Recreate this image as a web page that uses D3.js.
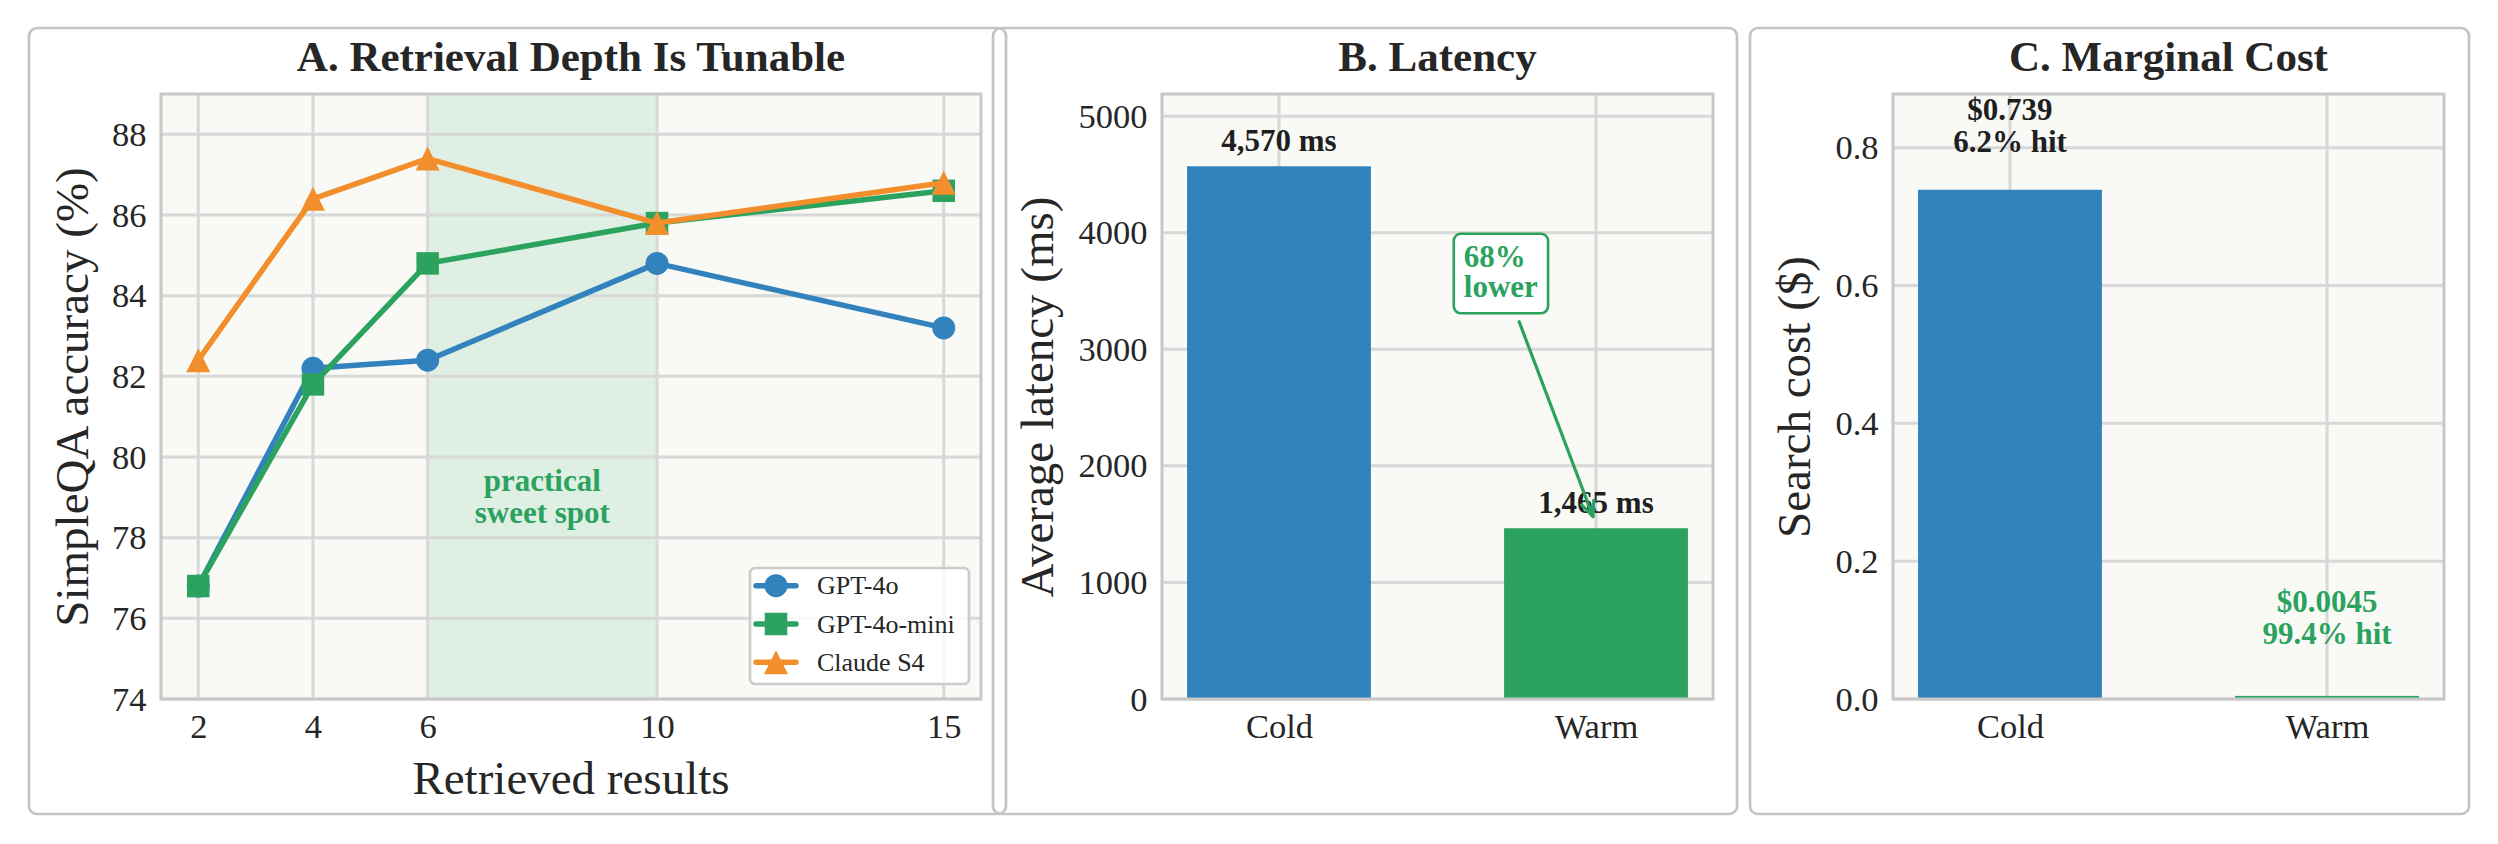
<!DOCTYPE html>
<html>
<head>
<meta charset="utf-8">
<script src="https://cdn.jsdelivr.net/npm/d3@7"></script>
<style>
  html, body { margin: 0; padding: 0; background: #ffffff; }
  svg { display: block; }
  text { font-family: "Liberation Serif", "DejaVu Serif", serif; }
</style>
</head>
<body>
<div id="chart"></div>
<script>
// Panel A data
const depths = [2, 4, 6, 10, 15];
const gpt4o = [76.8, 82.2, 82.4, 84.8, 83.2];
const gpt4oMini = [76.8, 81.8, 84.8, 85.8, 86.6];
const claudeS4 = [82.4, 86.4, 87.4, 85.8, 86.8];
const accuracyTicks = [74, 76, 78, 80, 82, 84, 86, 88];
const sweetSpot = [6, 10];

// Panels B and C data
const cacheModes = ["Cold", "Warm"];
const latencyMs = [4570, 1465];
const latencyTicks = [0, 1000, 2000, 3000, 4000, 5000];
const searchCost = [0.739, 0.0045];
const hitRates = [6.2, 99.4];
const costTicks = [0, 0.2, 0.4, 0.6, 0.8];

const BLUE = "#3182bd", GREEN = "#2ca25f", ORANGE = "#f28e2b";
const INK = "#262626", GRID = "#d8d8d8", FRAME = "#c8c8c8", PLOT_BG = "#f9faf6";

const W = 2498, H = 844;
const svg = d3.select("#chart").append("svg")
    .attr("width", W).attr("height", H);
svg.append("rect").attr("width", W).attr("height", H).attr("fill", "#ffffff");

// Plot areas (pixel boxes)
const plotTop = 94, plotBottom = 699;
const areaA = { left: 161, right: 981 };
const areaB = { left: 1162, right: 1713 };
const areaC = { left: 1893, right: 2444 };

// Panel frames (rounded, unfilled, may overlap)
const frames = [[29, 1006], [993, 1737], [1750, 2469]];
svg.append("g").selectAll("rect").data(frames).join("rect")
    .attr("x", d => d[0]).attr("y", 28)
    .attr("width", d => d[1] - d[0]).attr("height", 786)
    .attr("rx", 8)
    .attr("fill", "none").attr("stroke", "#c4c4c4").attr("stroke-width", 2.7);

// Shared helpers
function plotBackground(g, area) {
    g.append("rect")
        .attr("x", area.left).attr("y", plotTop)
        .attr("width", area.right - area.left).attr("height", plotBottom - plotTop)
        .attr("fill", PLOT_BG);
}

function gridLines(g, area, x, y, xTicks, yTicks) {
    const grid = g.append("g").attr("stroke", GRID).attr("stroke-width", 3);
    grid.selectAll(".hy").data(yTicks).join("line")
        .attr("class", "hy")
        .attr("x1", area.left).attr("x2", area.right)
        .attr("y1", d => y(d)).attr("y2", d => y(d));
    grid.selectAll(".vx").data(xTicks).join("line")
        .attr("class", "vx")
        .attr("x1", d => x(d)).attr("x2", d => x(d))
        .attr("y1", plotTop).attr("y2", plotBottom);
}

function frame(g, area) {
    g.append("rect")
        .attr("x", area.left).attr("y", plotTop)
        .attr("width", area.right - area.left).attr("height", plotBottom - plotTop)
        .attr("fill", "none").attr("stroke", FRAME).attr("stroke-width", 3);
}

function axes(g, area, x, y, xTicks, yTicks, xFmt, yFmt) {
    const ax = g.append("g")
        .attr("transform", `translate(${area.left},0)`)
        .call(d3.axisLeft(y).tickValues(yTicks).tickFormat(yFmt).tickSize(0).tickPadding(14.5));
    const bx = g.append("g")
        .attr("transform", `translate(0,${plotBottom})`)
        .call(d3.axisBottom(x).tickValues(xTicks).tickFormat(xFmt).tickSize(0).tickPadding(15));
    [ax, bx].forEach(a => {
        a.select(".domain").remove();
        a.selectAll("text")
            .attr("fill", INK)
            .style("font-size", "34.5px")
            .style("font-family", "'Liberation Serif', serif");
    });
}

function title(g, area, label) {
    g.append("text")
        .attr("x", (area.left + area.right) / 2).attr("y", 71)
        .attr("text-anchor", "middle")
        .attr("fill", INK)
        .style("font-size", "43px").style("font-weight", "bold")
        .text(label);
}

function yLabel(g, baseX, label) {
    g.append("text")
        .attr("transform", `translate(${baseX},397) rotate(-90)`)
        .attr("text-anchor", "middle")
        .attr("fill", INK)
        .style("font-size", "47px")
        .text(label);
}

// matplotlib-like markers: circle, square, triangle-up (size = full width)
const markerPath = {
    circle: s => d3.symbol(d3.symbolCircle, Math.PI * (s / 2) ** 2)(),
    square: s => `M${-s / 2},${-s / 2}h${s}v${s}h${-s}Z`,
    triangle: s => `M0,${-s / 2}L${s / 2},${s / 2}L${-s / 2},${s / 2}Z`
};

// ---------- Panel A: line chart ----------
const gA = svg.append("g");
const xA = d3.scaleLinear().domain([1.35, 15.65]).range([areaA.left, areaA.right]);
const yA = d3.scaleLinear().domain([74, 89]).range([plotBottom, plotTop]);

plotBackground(gA, areaA);
gA.append("rect")
    .attr("x", xA(sweetSpot[0])).attr("y", plotTop)
    .attr("width", xA(sweetSpot[1]) - xA(sweetSpot[0])).attr("height", plotBottom - plotTop)
    .attr("fill", GREEN).attr("fill-opacity", 0.12);
gridLines(gA, areaA, xA, yA, depths, accuracyTicks);

const spotText = gA.append("text")
    .attr("text-anchor", "middle")
    .attr("fill", GREEN)
    .style("font-size", "31px").style("font-weight", "bold");
spotText.append("tspan").attr("x", xA(8)).attr("y", yA(79) - 6).text("practical");
spotText.append("tspan").attr("x", xA(8)).attr("y", yA(79) + 26).text("sweet spot");

const series = [
    { name: "GPT-4o", values: gpt4o, color: BLUE, marker: "circle", size: 23 },
    { name: "GPT-4o-mini", values: gpt4oMini, color: GREEN, marker: "square", size: 22.5 },
    { name: "Claude S4", values: claudeS4, color: ORANGE, marker: "triangle", size: 24 }
];

const line = d3.line().x(d => xA(d[0])).y(d => yA(d[1]));
series.forEach(s => {
    const pts = depths.map((d, i) => [d, s.values[i]]);
    const sg = gA.append("g");
    sg.append("path")
        .attr("d", line(pts))
        .attr("fill", "none").attr("stroke", s.color)
        .attr("stroke-width", 5.5).attr("stroke-linejoin", "round").attr("stroke-linecap", "round");
    sg.selectAll("path.m").data(pts).join("path")
        .attr("class", "m")
        .attr("transform", d => `translate(${xA(d[0])},${yA(d[1])})`)
        .attr("d", markerPath[s.marker](s.size))
        .attr("fill", s.color);
});
frame(gA, areaA);
axes(gA, areaA, xA, yA, depths, accuracyTicks, d3.format("d"), d3.format("d"));
title(gA, areaA, "A. Retrieval Depth Is Tunable");
yLabel(gA, 88, "SimpleQA accuracy (%)");
gA.append("text")
    .attr("x", (areaA.left + areaA.right) / 2).attr("y", 794)
    .attr("text-anchor", "middle").attr("fill", INK)
    .style("font-size", "47px")
    .text("Retrieved results");

// Legend
const legend = gA.append("g").attr("transform", "translate(750,568)");
legend.append("rect")
    .attr("width", 219).attr("height", 116).attr("rx", 5)
    .attr("fill", "#ffffff").attr("fill-opacity", 0.85)
    .attr("stroke", "#cccccc").attr("stroke-width", 2.7);
series.forEach((s, i) => {
    const row = legend.append("g").attr("transform", `translate(0,${17.7 + i * 38.3})`);
    row.append("line")
        .attr("x1", 6).attr("x2", 46)
        .attr("stroke", s.color).attr("stroke-width", 5.5).attr("stroke-linecap", "round");
    row.append("path")
        .attr("transform", "translate(26,0)")
        .attr("d", markerPath[s.marker](s.size))
        .attr("fill", s.color);
    row.append("text")
        .attr("x", 67).attr("y", 8.6)
        .attr("fill", INK)
        .style("font-size", "26px")
        .text(s.name);
});

// ---------- Bar panels ----------
function barPanel(area, values, ticks, yMax, tickFmt, name, ylab, labelX) {
    const g = svg.append("g");
    const idx = cacheModes.map((c, i) => i);
    const x = d3.scaleLinear().domain([-0.369, 1.369]).range([area.left, area.right]);
    const y = d3.scaleLinear().domain([0, yMax]).range([plotBottom, plotTop]);
    plotBackground(g, area);
    gridLines(g, area, x, y, idx, ticks);
    g.selectAll("rect.bar").data(values).join("rect")
        .attr("class", "bar")
        .attr("x", (d, i) => x(i - 0.29))
        .attr("width", x(0.29) - x(-0.29))
        .attr("y", d => y(d))
        .attr("height", d => y(0) - y(d))
        .attr("fill", (d, i) => i === 0 ? BLUE : GREEN);
    frame(g, area);
    axes(g, area, x, y, idx, ticks, i => cacheModes[i], tickFmt);
    title(g, area, name);
    yLabel(g, labelX, ylab);
    return { g, x, y };
}

// Panel B
const B = barPanel(areaB, latencyMs, latencyTicks, 5190, d3.format("d"),
    "B. Latency", "Average latency (ms)", 1053);
B.g.selectAll("text.val").data(latencyMs).join("text")
    .attr("class", "val")
    .attr("x", (d, i) => B.x(i)).attr("y", d => B.y(d) - 15)
    .attr("text-anchor", "middle").attr("fill", "#1f1f1f")
    .style("font-size", "31px").style("font-weight", "bold")
    .text(d => d3.format(",")(d) + " ms");

// "68% lower" callout with arrow
const reduction = 1 - latencyMs[1] / latencyMs[0];
const note = B.g.append("g");
const noteText = note.append("text")
    .attr("fill", GREEN)
    .style("font-size", "31px").style("font-weight", "bold");
noteText.append("tspan").attr("x", 0).attr("y", 0).text(d3.format(".0%")(reduction));
noteText.append("tspan").attr("x", 0).attr("y", 30.5).text("lower");
const nb = noteText.node().getBBox();
const cx = B.x(0.70), cy = B.y(3650);
const box = { x0: nb.x - 10, x1: nb.x + nb.width + 10, y0: nb.y - 5, y1: nb.y + nb.height + 9 };
const shiftX = cx - (box.x0 + box.x1) / 2, shiftY = cy - (box.y0 + box.y1) / 2;
note.attr("transform", `translate(${shiftX},${shiftY})`);
note.insert("rect", "text")
    .attr("x", box.x0).attr("y", box.y0)
    .attr("width", box.x1 - box.x0).attr("height", box.y1 - box.y0)
    .attr("rx", 7)
    .attr("fill", "#ffffff").attr("stroke", GREEN).attr("stroke-width", 2.6);

const tipX = B.x(1) - 3, tipY = B.y(latencyMs[1] + 100);
const dx = tipX - cx, dy = tipY - cy, len = Math.hypot(dx, dy);
const ux = dx / len, uy = dy / len;
const boxBottom = box.y1 + shiftY;
const tStart = (boxBottom - cy) / uy + 9;
const sx = cx + ux * tStart, sy = cy + uy * tStart;
const arrow = B.g.append("g")
    .attr("stroke", GREEN).attr("stroke-width", 3.2).attr("fill", "none")
    .attr("stroke-linecap", "round").attr("stroke-linejoin", "round");
arrow.append("line").attr("x1", sx).attr("y1", sy).attr("x2", tipX).attr("y2", tipY);
const hl = 15, hw = 6.5;
arrow.append("path").attr("d", d3.line()([
    [tipX - ux * hl - uy * hw, tipY - uy * hl + ux * hw],
    [tipX, tipY],
    [tipX - ux * hl + uy * hw, tipY - uy * hl - ux * hw]
]));

// Panel C
const C = barPanel(areaC, searchCost, costTicks, 0.878, d3.format(".1f"),
    "C. Marginal Cost", "Search cost ($)", 1810);
const costOffset = [0.045, 0.065];
searchCost.forEach((v, i) => {
    const t = C.g.append("text")
        .attr("text-anchor", "middle")
        .attr("fill", i === 0 ? "#1f1f1f" : GREEN)
        .style("font-size", "31px").style("font-weight", "bold");
    const base = C.y(v + costOffset[i]) - 7;
    t.append("tspan").attr("x", C.x(i)).attr("y", base - 32).text("$" + v);
    t.append("tspan").attr("x", C.x(i)).attr("y", base).text(hitRates[i] + "% hit");
});
</script>
</body>
</html>
